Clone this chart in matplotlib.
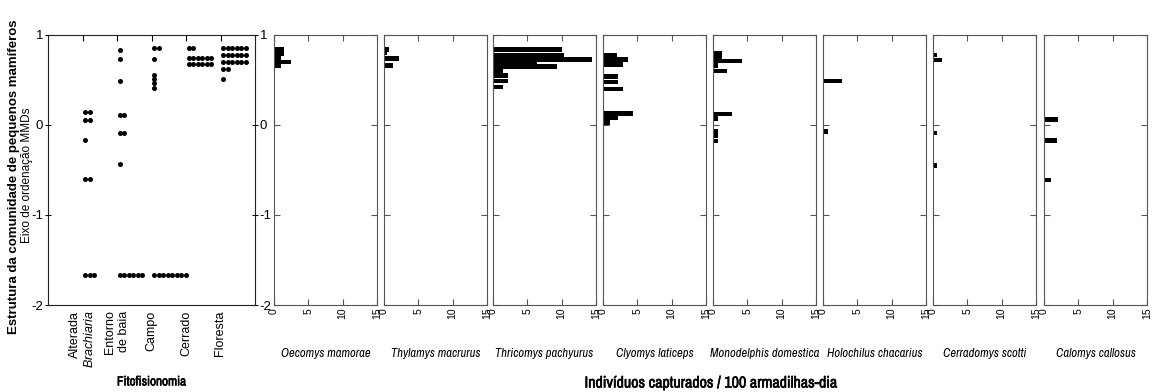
import matplotlib
matplotlib.use("Agg")
import matplotlib.pyplot as plt
from matplotlib import font_manager
import matplotlib.patheffects as pe
from collections import Counter

plt.rcParams['font.family'] = ['Liberation Sans', 'DejaVu Sans']
plt.rcParams['mathtext.fontset'] = 'custom'
plt.rcParams['mathtext.rm'] = 'Liberation Sans'
plt.rcParams['mathtext.it'] = 'Liberation Sans:italic'
plt.rcParams['axes.unicode_minus'] = False

# pick a narrow face if one is installed (reference uses an Arial Narrow look)
ttf = font_manager.fontManager.ttflist
names = {f.name for f in ttf}
narrow = None
for cand in ['Liberation Sans Narrow', 'Arial Narrow', 'DejaVu Sans Condensed']:
    if cand in names:
        narrow = cand
        break
if narrow is None:
    others = sorted(n for n in names if 'Narrow' in n or 'Condensed' in n)
    narrow = others[0] if others else 'Liberation Sans'
has_bold = any(f.name == narrow and str(f.weight) in ('700', 'bold') for f in ttf)
NFAM = [narrow, 'Liberation Sans']
if has_bold:
    BOLD = dict(family=NFAM, fontweight='bold')
else:
    BOLD = dict(family=NFAM, path_effects=[pe.withStroke(linewidth=0.4, foreground='black')])

# left panel: site scores (MMDs axis) per phytophysiognomy
categories = ['Alterada\n$\\it{Brachiaria}$', 'Entorno\nde baia', 'Campo', 'Cerrado', 'Floresta']
alterada = [0.14, 0.14, 0.05, 0.05, -0.17, -0.60, -0.60, -1.67, -1.67, -1.67]
entorno = [0.83, 0.73, 0.49, 0.11, 0.11, -0.09, -0.09, -0.43,
           -1.67, -1.67, -1.67, -1.67, -1.67, -1.67]
campo = [0.85, 0.85, 0.73, 0.56, 0.51, 0.47, 0.41,
         -1.67, -1.67, -1.67, -1.67, -1.67, -1.67, -1.67, -1.67]
cerrado = [0.85, 0.85] + [0.74] * 6 + [0.68] * 6
floresta = [0.85] * 6 + [0.78] * 6 + [0.70] * 6 + [0.62, 0.62, 0.515]
site_groups = [alterada, entorno, campo, cerrado, floresta]

# right panels: captures per site score
species = ['Oecomys mamorae', 'Thylamys macrurus', 'Thricomys pachyurus', 'Clyomys laticeps',
           'Monodelphis domestica', 'Holochilus chacarius', 'Cerradomys scotti', 'Calomys callosus']
oecomys_y = [0.84, 0.79, 0.74, 0.70, 0.66]
oecomys_n = [1.5, 1.5, 1.0, 2.5, 1.0]
thylamys_y = [0.84, 0.80, 0.74, 0.66]
thylamys_n = [0.7, 0.5, 2.2, 1.3]
thricomys_y = [0.84, 0.78, 0.73, 0.69, 0.65, 0.60, 0.55, 0.49, 0.42]
thricomys_n = [10.0, 10.3, 14.4, 6.4, 9.3, 1.5, 2.2, 2.2, 1.5]
clyomys_y = [0.78, 0.73, 0.67, 0.54, 0.48, 0.40, 0.13, 0.08, 0.03]
clyomys_n = [2.0, 3.6, 2.9, 2.2, 2.2, 2.9, 4.3, 2.2, 1.0]
monodelphis_y = [0.80, 0.76, 0.71, 0.66, 0.60, 0.12, 0.07, -0.07, -0.12, -0.18]
monodelphis_n = [1.3, 1.3, 4.2, 0.7, 2.1, 2.8, 0.8, 0.8, 0.8, 0.8]
holochilus_y = [0.49, -0.07]
holochilus_n = [2.8, 0.7]
cerradomys_y = [0.78, 0.72, -0.09, -0.45]
cerradomys_n = [0.6, 1.3, 0.6, 0.6]
calomys_y = [0.06, -0.17, -0.61]
calomys_n = [2.1, 1.9, 1.0]

bars = [(oecomys_y, oecomys_n), (thylamys_y, thylamys_n), (thricomys_y, thricomys_n),
        (clyomys_y, clyomys_n), (monodelphis_y, monodelphis_n), (holochilus_y, holochilus_n),
        (cerradomys_y, cerradomys_n), (calomys_y, calomys_n)]

W, H = 1152, 392
fig = plt.figure(figsize=(W / 100, H / 100), dpi=100)

def px_axes(left, right, top=35, bottom=305):
    return fig.add_axes([left / W, 1 - bottom / H, (right - left) / W, (bottom - top) / H])

# ---- left dot plot
ax = px_axes(48, 255)
for i, grp in enumerate(site_groups):
    xpos = i + 1
    for val, cnt in Counter(grp).items():
        xs = [xpos + 0.08 + 0.13 * k for k in range(cnt)]
        ax.plot(xs, [val] * cnt, 'o', color='black', markersize=3.6, markeredgewidth=0)
ax.set_xlim(0, 6)
ax.set_ylim(-2, 1)
ax.set_xticks(range(1, 6))
ax.set_xticklabels(categories, rotation=90, fontsize=9, va='top', ha='center', multialignment='right')
ax.tick_params(axis='x', top=True, bottom=False, direction='in', length=4, pad=4)
ax.set_yticks([1, 0, -1, -2])
ax.tick_params(axis='y', left=True, right=True, labelright=True, direction='inout',
               length=5, labelsize=9.5, pad=1)
for s in ax.spines.values():
    s.set_color('#222222')
ax.text(0.5, -0.285, 'Fitofisionomia', transform=ax.transAxes, ha='center', va='center',
        fontsize=9.5, **BOLD)

# ---- species panels
lefts = [274, 384, 493, 603, 713, 823, 933, 1044]
for left, name, (ys, ns) in zip(lefts, species, bars):
    a = px_axes(left, left + 103)
    a.barh(ys, ns, height=0.05, color='black', edgecolor='none')
    a.set_xlim(0, 15)
    a.set_ylim(-2, 1)
    a.set_xticks([0, 5, 10, 15])
    a.set_xticklabels(['0', '5', '10', '15'], rotation=90, fontsize=7.5)
    a.set_yticks([1, 0, -1, -2])
    a.tick_params(axis='x', top=True, bottom=True, direction='in', length=4, pad=2,
                  color='#555555')
    a.tick_params(axis='y', left=True, right=True, labelleft=False, direction='in',
                  length=4, color='#555555')
    for s in a.spines.values():
        s.set_color('#555555')
    a.text(0.5, -0.18, name, transform=a.transAxes, ha='center', va='center',
           fontsize=9, style='italic', family=NFAM)

fig.text(0.012, 0.55, 'Estrutura da comunidade de pequenos mamíferos', rotation=90,
         ha='center', va='center', fontsize=9.5, fontweight='bold')
fig.text(0.0235, 0.553, 'Eixo de ordenação MMDs', rotation=90, ha='center', va='center',
         fontsize=8.5)
fig.text(711 / W, 1 - 383 / H, 'Indivíduos capturados / 100 armadilhas-dia', ha='center',
         va='center', fontsize=11.5, **BOLD)

fig.savefig('out.png', dpi=100, facecolor='white')
